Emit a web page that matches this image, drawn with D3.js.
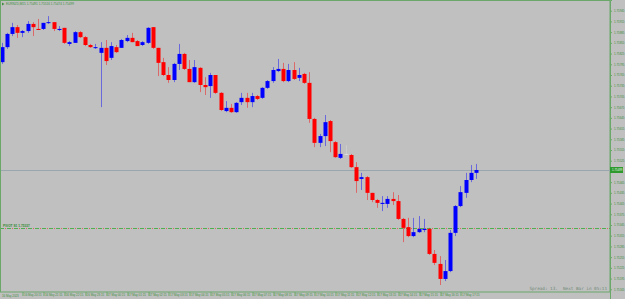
<!DOCTYPE html>
<html>
<head>
<meta charset="utf-8">
<script src="https://cdn.jsdelivr.net/npm/d3@7"></script>
<style>
  body { margin: 0; background: #c0c0c0; }
  svg { display: block; }
</style>
</head>
<body>
<div id="chart"></div>
<script>
// EURNZD M15, 92 bars starting 16 May 19:15
const timeLabels = ["16 May 2023", "16 May 20:15", "16 May 21:15", "16 May 22:15", "16 May 23:15",
  "17 May 00:15", "17 May 01:15", "17 May 02:15", "17 May 03:15", "17 May 04:15", "17 May 05:15",
  "17 May 06:15", "17 May 07:15", "17 May 08:15", "17 May 09:15", "17 May 10:15", "17 May 11:15",
  "17 May 12:15", "17 May 13:15", "17 May 14:15", "17 May 15:15", "17 May 16:15", "17 May 17:15"];

const open = [1.75801,1.75843,1.75880,1.75899,1.75883,1.75888,1.75908,1.75894,1.75894,1.75911,
  1.75913,1.75891,1.75897,1.75852,1.75855,1.75885,1.75871,1.75849,1.75841,1.75827,
  1.75841,1.75813,1.75843,1.75841,1.75860,1.75869,1.75860,1.75849,1.75855,1.75899,
  1.75841,1.75801,1.75765,1.75751,1.75796,1.75824,1.75782,1.75745,1.75785,1.75737,
  1.75734,1.75765,1.75715,1.75664,1.75673,1.75661,1.75689,1.75701,1.75689,1.75706,
  1.75701,1.75729,1.75748,1.75776,1.75782,1.75748,1.75779,1.75757,1.75768,1.75743,
  1.75642,1.75575,1.75594,1.75636,1.75577,1.75533,1.75544,1.75541,1.75507,1.75474,
  1.75479,1.75435,1.75415,1.75404,1.75404,1.75418,1.75412,1.75362,1.75339,1.75314,
  1.75325,1.75331,1.75334,1.75264,1.75236,1.75194,1.75216,1.75323,1.75398,1.75435,
  1.75471,1.75491];
const high = [1.75855,1.75883,1.75911,1.75905,1.75891,1.75916,1.75913,1.75922,1.75911,1.75930,
  1.75913,1.75902,1.75897,1.75860,1.75888,1.75888,1.75874,1.75852,1.75852,1.75857,
  1.75863,1.75857,1.75849,1.75866,1.75877,1.75883,1.75863,1.75860,1.75899,1.75899,
  1.75841,1.75813,1.75787,1.75799,1.75852,1.75827,1.75807,1.75807,1.75787,1.75759,
  1.75771,1.75765,1.75717,1.75692,1.75684,1.75689,1.75715,1.75715,1.75715,1.75709,
  1.75731,1.75751,1.75787,1.75810,1.75799,1.75796,1.75801,1.75785,1.75771,1.75773,
  1.75645,1.75600,1.75653,1.75639,1.75580,1.75572,1.75569,1.75544,1.75521,1.75491,
  1.75482,1.75435,1.75418,1.75426,1.75426,1.75437,1.75429,1.75365,1.75365,1.75365,
  1.75370,1.75362,1.75337,1.75275,1.75258,1.75247,1.75331,1.75401,1.75454,1.75491,
  1.75513,1.75516];
const low = [1.75796,1.75838,1.75874,1.75869,1.75871,1.75883,1.75874,1.75891,1.75891,1.75908,
  1.75888,1.75888,1.75852,1.75846,1.75855,1.75869,1.75846,1.75841,1.75838,1.75675,
  1.75793,1.75807,1.75827,1.75841,1.75857,1.75857,1.75846,1.75846,1.75852,1.75838,
  1.75762,1.75762,1.75743,1.75745,1.75779,1.75779,1.75745,1.75743,1.75717,1.75709,
  1.75701,1.75712,1.75664,1.75661,1.75659,1.75659,1.75681,1.75673,1.75675,1.75695,
  1.75698,1.75726,1.75743,1.75773,1.75745,1.75745,1.75751,1.75748,1.75740,1.75631,
  1.75563,1.75563,1.75566,1.75549,1.75533,1.75530,1.75541,1.75505,1.75435,1.75443,
  1.75415,1.75409,1.75393,1.75384,1.75393,1.75401,1.75359,1.75297,1.75311,1.75311,
  1.75323,1.75325,1.75261,1.75233,1.75177,1.75188,1.75213,1.75314,1.75395,1.75421,
  1.75465,1.75474];
const close = [1.75843,1.75880,1.75899,1.75883,1.75888,1.75908,1.75899,1.75891,1.75911,1.75913,
  1.75894,1.75894,1.75855,1.75857,1.75885,1.75871,1.75849,1.75843,1.75843,1.75841,
  1.75804,1.75846,1.75829,1.75863,1.75869,1.75857,1.75846,1.75857,1.75897,1.75841,
  1.75799,1.75765,1.75751,1.75796,1.75824,1.75782,1.75745,1.75787,1.75737,1.75731,
  1.75765,1.75715,1.75667,1.75673,1.75661,1.75687,1.75701,1.75689,1.75706,1.75698,
  1.75729,1.75748,1.75779,1.75782,1.75748,1.75779,1.75754,1.75765,1.75743,1.75642,
  1.75575,1.75594,1.75633,1.75580,1.75535,1.75544,1.75544,1.75507,1.75468,1.75479,
  1.75435,1.75415,1.75407,1.75407,1.75418,1.75412,1.75362,1.75337,1.75314,1.75325,
  1.75334,1.75334,1.75264,1.75239,1.75194,1.75216,1.75323,1.75398,1.75437,1.75471,
  1.75491,1.75499];

const priceTicks = [1.75945,1.75915,1.75885,1.75855,1.75825,1.75795,1.75765,1.75735,1.75705,
  1.75675,1.75645,1.75615,1.75585,1.75555,1.75525,1.75495,1.75465,1.75435,1.75405,1.75375,
  1.75345,1.75315,1.75285,1.75255,1.75225,1.75195,1.75165];
const bidPrice = 1.75499;
const levelPrice = 1.75337;
const levelLabel = "PIVOT S1 1.75337";
const title = "EURNZD,M15  1.75491 1.75516 1.75474 1.75499";
const infoText = "Spread: 13.  Next Bar in 05:11";

const W = 625, H = 299;
const plotRight = 610, plotBottom = 292;
const gridGreen = "#6aa86a", textGreen = "#3f8f3f";
const font = "Liberation Sans";

const svg = d3.select("#chart").append("svg")
  .attr("width", W).attr("height", H)
  .style("background", "#c0c0c0");

const x = d3.scaleLinear().domain([0, 91]).range([1.5, 476]);
const y = d3.scaleLinear().domain([1.75975, 1.75975 - 0.000028 * H]).range([0, H]);

// frame
svg.append("rect").attr("x", 0.5).attr("y", 0.5)
  .attr("width", plotRight - 0.5).attr("height", plotBottom - 0.5)
  .attr("fill", "none").attr("stroke", gridGreen);

const plot = svg.append("g");
plot.append("clipPath").attr("id", "clip").append("rect")
  .attr("x", 1).attr("y", 1).attr("width", plotRight - 1).attr("height", plotBottom - 1);
const g = plot.append("g").attr("clip-path", "url(#clip)");

// bid line
g.append("line").attr("x1", 0).attr("x2", plotRight)
  .attr("y1", Math.round(y(bidPrice)) + 0.5).attr("y2", Math.round(y(bidPrice)) + 0.5)
  .attr("stroke", "#9aa6ae").attr("stroke-width", 1);

// level line (green dash with red dots)
const ly = Math.round(y(levelPrice)) + 0.5;
g.append("line").attr("x1", 0).attr("x2", plotRight).attr("y1", ly).attr("y2", ly)
  .attr("stroke", "#4fae4f").attr("stroke-dasharray", "4,3");
g.append("line").attr("x1", 5).attr("x2", plotRight).attr("y1", ly).attr("y2", ly)
  .attr("stroke", "#e06060").attr("stroke-dasharray", "1,6");
g.append("text").attr("x", 3).attr("y", ly - 1.5)
  .attr("font-family", font).attr("font-size", 3.2).attr("font-weight", "bold")
  .attr("fill", "#2f8a2f").text(levelLabel);

const idx = d3.range(open.length);
const col = i => close[i] > open[i] ? "#0000ff" : close[i] < open[i] ? "#ff0000" : "#dcdcdc";

// wicks
g.selectAll(".wick").data(idx).join("line")
  .attr("x1", i => Math.round(x(i)) + 0.5).attr("x2", i => Math.round(x(i)) + 0.5)
  .attr("y1", i => y(high[i])).attr("y2", i => y(low[i]))
  .attr("stroke", col).attr("stroke-opacity", 0.45).attr("stroke-width", 1);

// bodies
g.selectAll(".body").data(idx).join("rect")
  .attr("x", i => Math.round(x(i)) - 1.5)
  .attr("y", i => y(Math.max(open[i], close[i])))
  .attr("width", 4)
  .attr("height", i => Math.max(1, Math.abs(y(open[i]) - y(close[i]))))
  .attr("fill", col);

// title
svg.append("path").attr("d", "M2,2.5 L4.5,4 L2,5.5 Z").attr("fill", "#3f8f3f");
svg.append("text").attr("x", 6).attr("y", 5.3)
  .attr("font-family", font).attr("font-size", 3.1)
  .attr("fill", textGreen).text(title);

// price axis
const yAxis = svg.append("g").attr("transform", `translate(${plotRight},0)`)
  .call(d3.axisRight(y).tickValues(priceTicks.filter(p => Math.abs(y(p) - y(bidPrice)) > 4))
    .tickSize(2).tickPadding(2).tickFormat(d3.format(".5f")));
yAxis.select(".domain").attr("stroke", gridGreen);
yAxis.selectAll(".tick line").attr("stroke", gridGreen);
yAxis.selectAll("text").attr("font-family", font).attr("font-size", 2.9)
  .attr("fill", textGreen);

// bid price box
const by = y(bidPrice);
svg.append("rect").attr("x", plotRight).attr("y", by - 3).attr("width", 13).attr("height", 6)
  .attr("fill", "#2e9a2e");
svg.append("text").attr("x", plotRight + 2).attr("y", by + 1.1)
  .attr("font-family", font).attr("font-size", 2.9)
  .attr("fill", "#e8f4e8").text(d3.format(".5f")(bidPrice));

// time axis
const tickIdx = d3.range(4, open.length, 4);
const xAxis = svg.append("g").attr("transform", `translate(0,${plotBottom})`)
  .call(d3.axisBottom(x).tickValues(tickIdx).tickSize(4)
    .tickFormat((d, i) => timeLabels[i + 1]));
xAxis.select(".domain").remove();
xAxis.selectAll(".tick line").attr("stroke", gridGreen)
  .attr("transform", d => `translate(${Math.round(x(d)) + 0.5 - x(d)},0)`);
xAxis.selectAll("text").attr("font-family", font).attr("font-size", 2.9)
  .attr("fill", textGreen).attr("text-anchor", "start").attr("dx", 1.2).attr("y", 2).attr("dy", "0.71em");
svg.append("text").attr("x", 2).attr("y", 296.5)
  .attr("font-family", font).attr("font-size", 2.9)
  .attr("fill", textGreen).text(timeLabels[0]);

// info text
svg.append("text").attr("x", 607).attr("y", 290).attr("text-anchor", "end")
  .attr("font-family", "DejaVu Sans Mono").attr("font-size", 4.3)
  .attr("fill", "#708a78").style("white-space", "pre")
  .text(infoText);
</script>
</body>
</html>
